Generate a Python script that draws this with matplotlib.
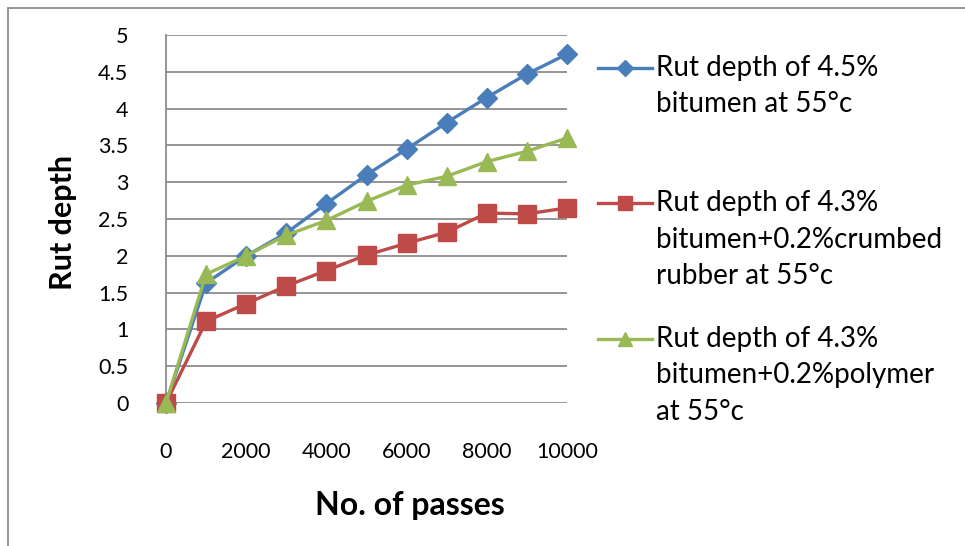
import matplotlib
matplotlib.use("Agg")
import matplotlib.pyplot as plt
from matplotlib.lines import Line2D
from matplotlib.patches import Rectangle

plt.rcParams['font.family'] = ['Lato', 'DejaVu Sans']

passes = [0, 1000, 2000, 3000, 4000, 5000, 6000, 7000, 8000, 9000, 10000]
rut_bitumen = [0, 1.63, 2.0, 2.31, 2.71, 3.10, 3.45, 3.81, 4.15, 4.47, 4.74]
rut_crumb = [0, 1.11, 1.35, 1.59, 1.80, 2.01, 2.17, 2.32, 2.58, 2.57, 2.65]
rut_polymer = [0, 1.75, 2.0, 2.28, 2.48, 2.74, 2.96, 3.08, 3.28, 3.42, 3.60]

labels = ["Rut depth of 4.5%\nbitumen at 55°c",
          "Rut depth of 4.3%\nbitumen+0.2%crumbed\nrubber at 55°c",
          "Rut depth of 4.3%\nbitumen+0.2%polymer\nat 55°c"]
xticks = [0, 2000, 4000, 6000, 8000, 10000]
yticks = [0, 0.5, 1, 1.5, 2, 2.5, 3, 3.5, 4, 4.5, 5]
ytick_labels = ["0", "0.5", "1", "1.5", "2", "2.5", "3", "3.5", "4", "4.5", "5"]

W, H = 965, 546
fig = plt.figure(figsize=(W / 100, H / 100), dpi=100)
fig.patch.set_facecolor('white')
ax = fig.add_axes([166 / W, 1 - 403 / H, (567 - 166) / W, (403 - 35) / H])

styles = [("#4A7EBB", "D", 10.5), ("#BE4B48", "s", 13), ("#98B954", "^", 13.5)]
series = [rut_bitumen, rut_crumb, rut_polymer]
for ys, (c, m, ms) in zip(series, styles):
    ax.plot(passes, ys, color=c, marker=m, markersize=ms, lw=2.4,
            clip_on=False, zorder=3, markeredgecolor=c)

ax.set_xlim(0, 10000)
ax.set_ylim(0, 5)
ax.set_xticks(xticks)
ax.set_xticklabels([str(v) for v in xticks])
ax.set_yticks(yticks)
ax.set_yticklabels(ytick_labels)
ax.tick_params(length=0, labelsize=15.5, colors='black')
ax.tick_params(axis='y', pad=27)
ax.tick_params(axis='x', pad=28)
ax.grid(axis='y', color='#8C8C8C', lw=1.3)
ax.set_axisbelow(True)
for s in ['top', 'right', 'bottom']:
    ax.spines[s].set_visible(False)
ax.spines['left'].set_color('#8C8C8C')
ax.spines['left'].set_linewidth(1.3)

fig.text(63 / W, 1 - 222 / H, "Rut depth", rotation=90, ha='center', va='center',
         fontsize=22, fontweight='bold')
fig.text(410 / W, 1 - 505 / H, "No. of passes", ha='center', va='center',
         fontsize=23, fontweight='bold')

# legend
leg_y = [68, 203, 339]
line_gap = 36.5
for lab, (c, m, ms), y0 in zip(labels, styles, leg_y):
    fy = 1 - y0 / H
    fig.add_artist(Line2D([598 / W, 652 / W], [fy, fy], color=c, lw=2.4,
                          transform=fig.transFigure))
    fig.add_artist(Line2D([625 / W], [fy], color=c, marker=m, markersize=ms * 0.75,
                          markeredgecolor=c, transform=fig.transFigure))
    for i, line in enumerate(lab.split("\n")):
        fig.text(656 / W, 1 - (y0 + i * line_gap) / H, line, ha='left',
                 va='center', fontsize=20)

fig.add_artist(Rectangle((8 / W, -0.1), 1.2, (1 - 8 / H) + 0.1, fill=False,
                         edgecolor='#8C8C8C', lw=1.3, transform=fig.transFigure))

fig.savefig("out.png", dpi=100)
